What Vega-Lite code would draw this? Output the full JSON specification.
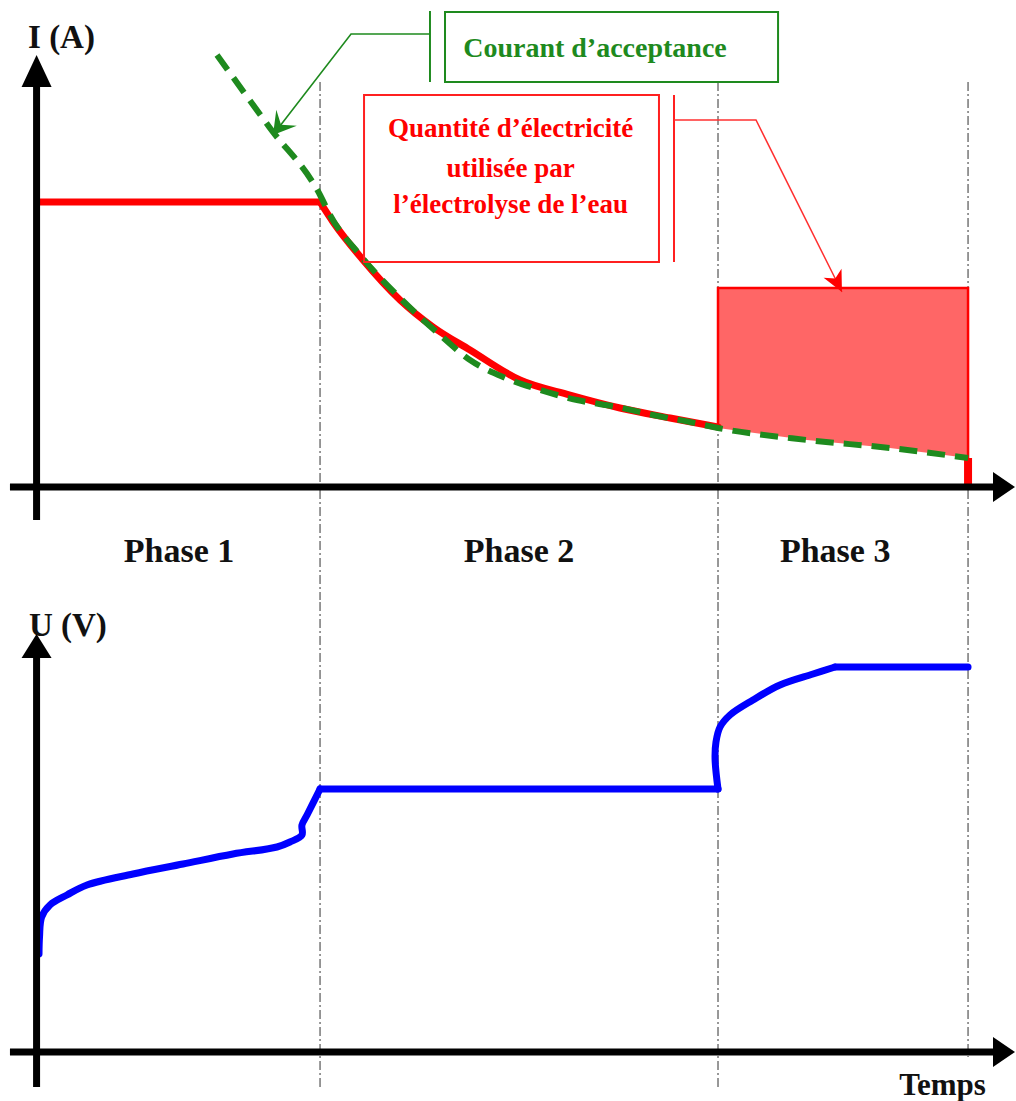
{
  "$schema": "https://vega.github.io/schema/vega-lite/v6.json",
  "background": "white",
  "padding": 0,
  "spacing": 0,
  "config": {"view": {"stroke": null}},
  "vconcat": [
    {
      "width": 1016,
      "height": 600,
      "encoding": {
        "x": {"field": "t", "type": "quantitative", "scale": {"domain": [-3.6, 96.4], "nice": false, "zero": false}, "axis": null},
        "y": {"field": "I", "type": "quantitative", "scale": {"domain": [-11.3, 48.7], "nice": false, "zero": false}, "axis": null}
      },
      "layer": [
        {
          "data": {"values": [
            {"t": 27.9, "I": 40.5, "I2": -11.3},
            {"t": 67.07, "I": 40.5, "I2": -11.3},
            {"t": 91.68, "I": 40.5, "I2": -11.3}
          ]},
          "mark": {"type": "rule", "color": "#555555", "strokeWidth": 1.2, "strokeDash": [9, 3, 2, 3]},
          "encoding": {"y2": {"field": "I2"}}
        },
        {
          "data": {"values": [
            {"t": 67.07, "I": 5.9, "top": 19.9},
            {"t": 75.83, "I": 4.7, "top": 19.9},
            {"t": 84.0, "I": 3.9, "top": 19.9},
            {"t": 91.68, "I": 2.9, "top": 19.9}
          ]},
          "mark": {"type": "area", "color": "#ff6666", "opacity": 1},
          "encoding": {"y2": {"field": "top"}}
        },
        {
          "data": {"values": [
            {"k": 1, "t": 67.07, "I": 6.0},
            {"k": 2, "t": 67.07, "I": 19.9},
            {"k": 3, "t": 91.68, "I": 19.9},
            {"k": 4, "t": 91.68, "I": 2.9}
          ]},
          "mark": {"type": "line", "color": "#ff0000", "strokeWidth": 2.5},
          "encoding": {"order": {"field": "k", "type": "quantitative"}}
        },
        {
          "data": {"values": [
            {"t": 91.68, "t2": 91.68, "I": 2.9, "I2": 0}
          ]},
          "mark": {"type": "rule", "color": "#ff0000", "strokeWidth": 8},
          "encoding": {"x2": {"field": "t2"}, "y2": {"field": "I2"}}
        },
        {
          "data": {"values": [
            {"t": 0, "I": 28.5},
            {"t": 27.9, "I": 28.5}
          ]},
          "mark": {"type": "line", "color": "#ff0000", "strokeWidth": 7}
        },
        {
          "data": {"values": [
            {"t": 27.9, "I": 28.5},
            {"t": 29.18, "I": 26.5},
            {"t": 32.13, "I": 22.7},
            {"t": 35.77, "I": 18.7},
            {"t": 39.02, "I": 16.0},
            {"t": 42.66, "I": 13.7},
            {"t": 47.58, "I": 10.7},
            {"t": 52.5, "I": 9.2},
            {"t": 57.42, "I": 7.9},
            {"t": 62.35, "I": 6.9},
            {"t": 67.07, "I": 6.0}
          ]},
          "mark": {"type": "line", "color": "#ff0000", "strokeWidth": 7, "interpolate": "monotone", "strokeCap": "round"}
        },
        {
          "data": {"values": [
            {"t": 17.76, "I": 43.2},
            {"t": 22.97, "I": 35.9},
            {"t": 27.9, "I": 29.2},
            {"t": 28.88, "I": 27.2},
            {"t": 31.83, "I": 23.2},
            {"t": 35.77, "I": 18.9},
            {"t": 39.71, "I": 15.2},
            {"t": 42.66, "I": 12.7},
            {"t": 45.91, "I": 11.0},
            {"t": 49.25, "I": 9.8},
            {"t": 53.19, "I": 8.7},
            {"t": 57.13, "I": 8.0},
            {"t": 60.67, "I": 7.2},
            {"t": 64.31, "I": 6.5},
            {"t": 67.07, "I": 5.9},
            {"t": 75.83, "I": 4.7},
            {"t": 84.0, "I": 3.9},
            {"t": 91.68, "I": 2.9}
          ]},
          "mark": {"type": "line", "color": "#1e8a1e", "strokeWidth": 6, "strokeDash": [18, 10], "interpolate": "monotone"}
        },
        {
          "data": {"values": [
            {"t": -2.62, "t2": 94.4, "I": 0, "I2": 0},
            {"t": 0, "t2": 0, "I": -3.3, "I2": 40.2}
          ]},
          "mark": {"type": "rule", "color": "black", "strokeWidth": 7},
          "encoding": {"x2": {"field": "t2"}, "y2": {"field": "I2"}}
        },
        {
          "data": {"values": [{"t": 0, "I": 43.2}]},
          "mark": {"type": "point", "shape": "M0,0L15,32L-15,32Z", "size": 4, "filled": true, "color": "black", "opacity": 1, "strokeWidth": 0}
        },
        {
          "data": {"values": [{"t": 96.3, "I": 0}]},
          "mark": {"type": "point", "shape": "M0,0L-22,-15L-22,15Z", "size": 4, "filled": true, "color": "black", "opacity": 1, "strokeWidth": 0}
        },
        {
          "data": {"values": [{"t": 40.2, "t2": 72.98, "I": 47.5, "I2": 40.5}]},
          "mark": {"type": "rect", "filled": false, "color": "#1e8a1e", "strokeWidth": 2},
          "encoding": {"x2": {"field": "t2"}, "y2": {"field": "I2"}}
        },
        {
          "data": {"values": [{"t": 38.72, "t2": 38.72, "I": 47.6, "I2": 40.5}]},
          "mark": {"type": "rule", "color": "#1e8a1e", "strokeWidth": 2},
          "encoding": {"x2": {"field": "t2"}, "y2": {"field": "I2"}}
        },
        {
          "data": {"values": [
            {"k": 1, "t": 38.72, "I": 45.3},
            {"k": 2, "t": 30.95, "I": 45.3},
            {"k": 3, "t": 23.27, "I": 35.2}
          ]},
          "mark": {"type": "line", "color": "#1e8a1e", "strokeWidth": 1.6},
          "encoding": {"order": {"field": "k", "type": "quantitative"}}
        },
        {
          "data": {"values": [{"t": 23.27, "I": 35.2}]},
          "mark": {"type": "point", "shape": "M0,0L-13,-22L0,-13L13,-22Z", "size": 4, "angle": 38, "filled": true, "color": "#1e8a1e", "opacity": 1, "strokeWidth": 0}
        },
        {
          "data": {"values": [{"t": 32.23, "t2": 61.26, "I": 39.2, "I2": 22.5}]},
          "mark": {"type": "rect", "filled": false, "color": "#ff2020", "strokeWidth": 2},
          "encoding": {"x2": {"field": "t2"}, "y2": {"field": "I2"}}
        },
        {
          "data": {"values": [{"t": 62.74, "t2": 62.74, "I": 39.2, "I2": 22.5}]},
          "mark": {"type": "rule", "color": "#ff2020", "strokeWidth": 2},
          "encoding": {"x2": {"field": "t2"}, "y2": {"field": "I2"}}
        },
        {
          "data": {"values": [
            {"k": 1, "t": 62.74, "I": 36.7},
            {"k": 2, "t": 70.81, "I": 36.7},
            {"k": 3, "t": 79.27, "I": 19.5}
          ]},
          "mark": {"type": "line", "color": "#ff3030", "strokeWidth": 1.5},
          "encoding": {"order": {"field": "k", "type": "quantitative"}}
        },
        {
          "data": {"values": [{"t": 79.27, "I": 19.5}]},
          "mark": {"type": "point", "shape": "M0,0L-10,-21L0,-15L10,-21Z", "size": 4, "angle": -26.6, "filled": true, "color": "#ff0000", "opacity": 1, "strokeWidth": 0}
        },
        {
          "data": {"values": [{"t": 54.96, "I": 43.0, "label": "Courant d’acceptance"}]},
          "mark": {"type": "text", "font": "Liberation Serif", "fontWeight": "bold", "fontSize": 28, "color": "#1e8a1e", "align": "center", "baseline": "alphabetic"},
          "encoding": {"text": {"field": "label"}}
        },
        {
          "data": {"values": [
            {"t": 46.66, "I": 35.0, "label": "Quantité d’électricité"},
            {"t": 46.66, "I": 31.0, "label": "utilisée par"},
            {"t": 46.66, "I": 27.4, "label": "l’électrolyse de l’eau"}
          ]},
          "mark": {"type": "text", "font": "Liberation Serif", "fontWeight": "bold", "fontSize": 27, "color": "#ff0000", "align": "center", "baseline": "alphabetic"},
          "encoding": {"text": {"field": "label"}}
        },
        {
          "data": {"values": [{"t": -0.84, "I": 43.9, "label": "I (A)"}]},
          "mark": {"type": "text", "font": "Liberation Serif", "fontWeight": "bold", "fontSize": 33, "color": "#111111", "align": "left", "baseline": "alphabetic"},
          "encoding": {"text": {"field": "label"}}
        },
        {
          "data": {"values": [
            {"t": 14.02, "I": -7.5, "label": "Phase 1"},
            {"t": 47.48, "I": -7.5, "label": "Phase 2"},
            {"t": 78.6, "I": -7.5, "label": "Phase 3"}
          ]},
          "mark": {"type": "text", "font": "Liberation Serif", "fontWeight": "bold", "fontSize": 34, "color": "#111111", "align": "center", "baseline": "alphabetic"},
          "encoding": {"text": {"field": "label"}}
        }
      ]
    },
    {
      "width": 1016,
      "height": 501,
      "encoding": {
        "x": {"field": "t", "type": "quantitative", "scale": {"domain": [-3.6, 96.4], "nice": false, "zero": false}, "axis": null},
        "y": {"field": "U", "type": "quantitative", "scale": {"domain": [-5.1, 45], "nice": false, "zero": false}, "axis": null}
      },
      "layer": [
        {
          "data": {"values": [
            {"t": 27.9, "U": 45, "U2": -3.5},
            {"t": 67.07, "U": 45, "U2": -3.5},
            {"t": 91.68, "U": 45, "U2": -0.5}
          ]},
          "mark": {"type": "rule", "color": "#555555", "strokeWidth": 1.2, "strokeDash": [9, 3, 2, 3]},
          "encoding": {"y2": {"field": "U2"}}
        },
        {
          "data": {"values": [
            {"k": 1, "t": 0.24, "U": 9.8},
            {"k": 2, "t": 0.29, "U": 11.5},
            {"k": 3, "t": 0.5, "U": 13.5},
            {"k": 4, "t": 1.32, "U": 14.7},
            {"k": 5, "t": 2.99, "U": 15.7},
            {"k": 6, "t": 4.96, "U": 16.7},
            {"k": 7, "t": 9.49, "U": 17.8},
            {"k": 8, "t": 14.41, "U": 18.8},
            {"k": 9, "t": 19.33, "U": 19.8},
            {"k": 10, "t": 23.66, "U": 20.5},
            {"k": 11, "t": 24.94, "U": 21.0},
            {"k": 12, "t": 26.12, "U": 21.7},
            {"k": 13, "t": 26.12, "U": 22.7},
            {"k": 14, "t": 26.62, "U": 23.7},
            {"k": 15, "t": 27.9, "U": 26.3}
          ]},
          "mark": {"type": "line", "color": "#0000ff", "strokeWidth": 7, "interpolate": "catmull-rom", "strokeCap": "round"},
          "encoding": {"order": {"field": "k", "type": "quantitative"}}
        },
        {
          "data": {"values": [
            {"t": 27.9, "U": 26.3},
            {"t": 67.07, "U": 26.3}
          ]},
          "mark": {"type": "line", "color": "#0000ff", "strokeWidth": 7, "strokeCap": "round"}
        },
        {
          "data": {"values": [
            {"k": 1, "t": 67.07, "U": 26.3},
            {"k": 2, "t": 66.78, "U": 29.3},
            {"k": 3, "t": 66.87, "U": 31.0},
            {"k": 4, "t": 67.27, "U": 32.5},
            {"k": 5, "t": 68.25, "U": 33.7},
            {"k": 6, "t": 70.51, "U": 35.2},
            {"k": 7, "t": 73.17, "U": 36.7},
            {"k": 8, "t": 76.42, "U": 37.8},
            {"k": 9, "t": 78.59, "U": 38.5}
          ]},
          "mark": {"type": "line", "color": "#0000ff", "strokeWidth": 7, "interpolate": "catmull-rom", "strokeCap": "round"},
          "encoding": {"order": {"field": "k", "type": "quantitative"}}
        },
        {
          "data": {"values": [
            {"t": 78.59, "U": 38.5},
            {"t": 91.68, "U": 38.5}
          ]},
          "mark": {"type": "line", "color": "#0000ff", "strokeWidth": 7, "strokeCap": "round"}
        },
        {
          "data": {"values": [
            {"t": -2.62, "t2": 94.4, "U": 0, "U2": 0},
            {"t": 0, "t2": 0, "U": -3.5, "U2": 39.5}
          ]},
          "mark": {"type": "rule", "color": "black", "strokeWidth": 7},
          "encoding": {"x2": {"field": "t2"}, "y2": {"field": "U2"}}
        },
        {
          "data": {"values": [{"t": -0.75, "U": 41.6, "label": "U (V)"}]},
          "mark": {"type": "text", "font": "Liberation Serif", "fontWeight": "bold", "fontSize": 33, "color": "#111111", "align": "left", "baseline": "alphabetic"},
          "encoding": {"text": {"field": "label"}}
        },
        {
          "data": {"values": [{"t": 0, "U": 41.8}]},
          "mark": {"type": "point", "shape": "M0,0L15,24L-15,24Z", "size": 4, "filled": true, "color": "black", "opacity": 1, "strokeWidth": 0}
        },
        {
          "data": {"values": [{"t": 96.3, "U": 0}]},
          "mark": {"type": "point", "shape": "M0,0L-22,-15L-22,15Z", "size": 4, "filled": true, "color": "black", "opacity": 1, "strokeWidth": 0}
        },
        {
          "data": {"values": [{"t": 84.9, "U": -4.3, "label": "Temps"}]},
          "mark": {"type": "text", "font": "Liberation Serif", "fontWeight": "bold", "fontSize": 31, "color": "#111111", "align": "left", "baseline": "alphabetic"},
          "encoding": {"text": {"field": "label"}}
        }
      ]
    }
  ]
}
